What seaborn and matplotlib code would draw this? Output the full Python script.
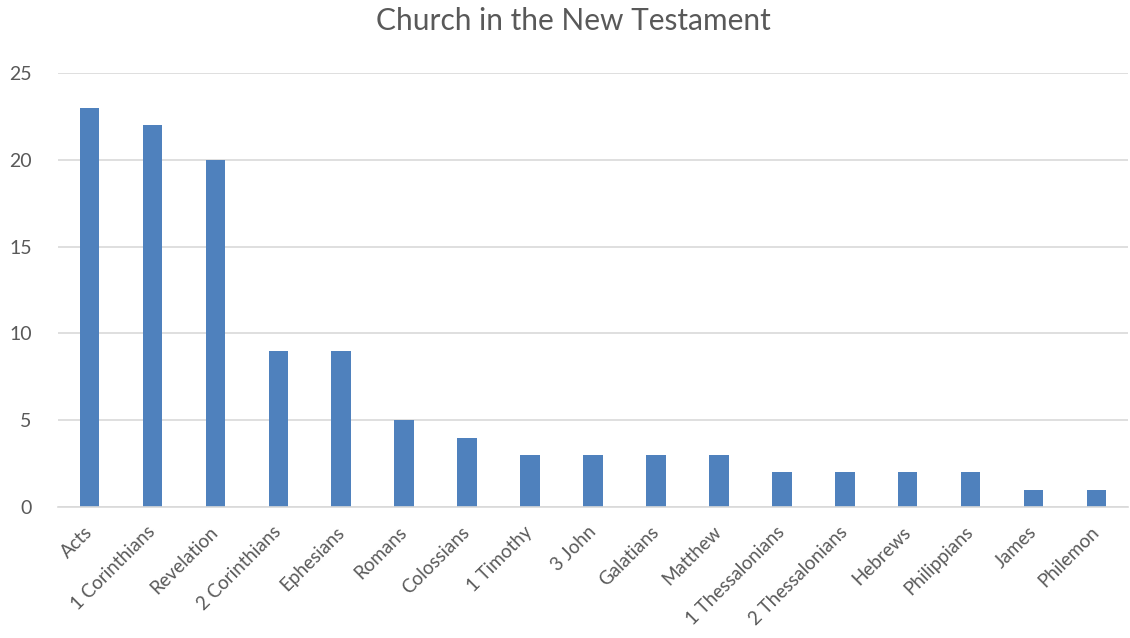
import matplotlib
matplotlib.use("Agg")
import matplotlib.pyplot as plt
import seaborn as sns
import pandas as pd

books = ["Acts", "1 Corinthians", "Revelation", "2 Corinthians", "Ephesians", "Romans",
         "Colossians", "1 Timothy", "3 John", "Galatians", "Matthew", "1 Thessalonians",
         "2 Thessalonians", "Hebrews", "Philippians", "James", "Philemon"]
counts = [23, 22, 20, 9, 9, 5, 4, 3, 3, 3, 3, 2, 2, 2, 2, 1, 1]
yticks = [0, 5, 10, 15, 20, 25]
title = "Church in the New Testament"

sns.set_theme(style="white")
plt.rcParams['font.family'] = ['Lato', 'DejaVu Sans']

df = pd.DataFrame({"book": books, "count": counts})

fig = plt.figure(figsize=(11.3, 6.38), dpi=100)
ax = fig.add_axes([58/1130, 1-507/638, 1070/1130, 434/638])
sns.barplot(data=df, x="book", y="count", color="#4F81BD", saturation=1, width=0.31, ax=ax,
            edgecolor="none")

ax.set_xlim(-0.5, len(books)-0.5)
ax.set_ylim(0, 25)
ax.set_yticks(yticks)
ax.yaxis.grid(True, color="#D9D9D9", linewidth=1.2)
ax.set_axisbelow(True)
for s in ["top", "right", "left"]:
    ax.spines[s].set_visible(False)
ax.spines["bottom"].set_color("#D9D9D9")
ax.spines["bottom"].set_linewidth(1.2)
ax.set_xlabel("")
ax.set_ylabel("")
ax.tick_params(axis="both", length=0, colors="#595959", labelsize=14)
ax.tick_params(axis="y", pad=19)
for lbl in ax.get_xticklabels():
    lbl.set_rotation(45)
    lbl.set_ha("right")
    lbl.set_va("center")
    lbl.set_rotation_mode("anchor")
    lbl.set_fontsize(13.5)
ax.tick_params(axis="x", pad=16)

fig.text(573/1130, 1-21/638, title, ha="center", va="center", fontsize=21.5, color="#595959")

fig.savefig("out.png", dpi=100)
